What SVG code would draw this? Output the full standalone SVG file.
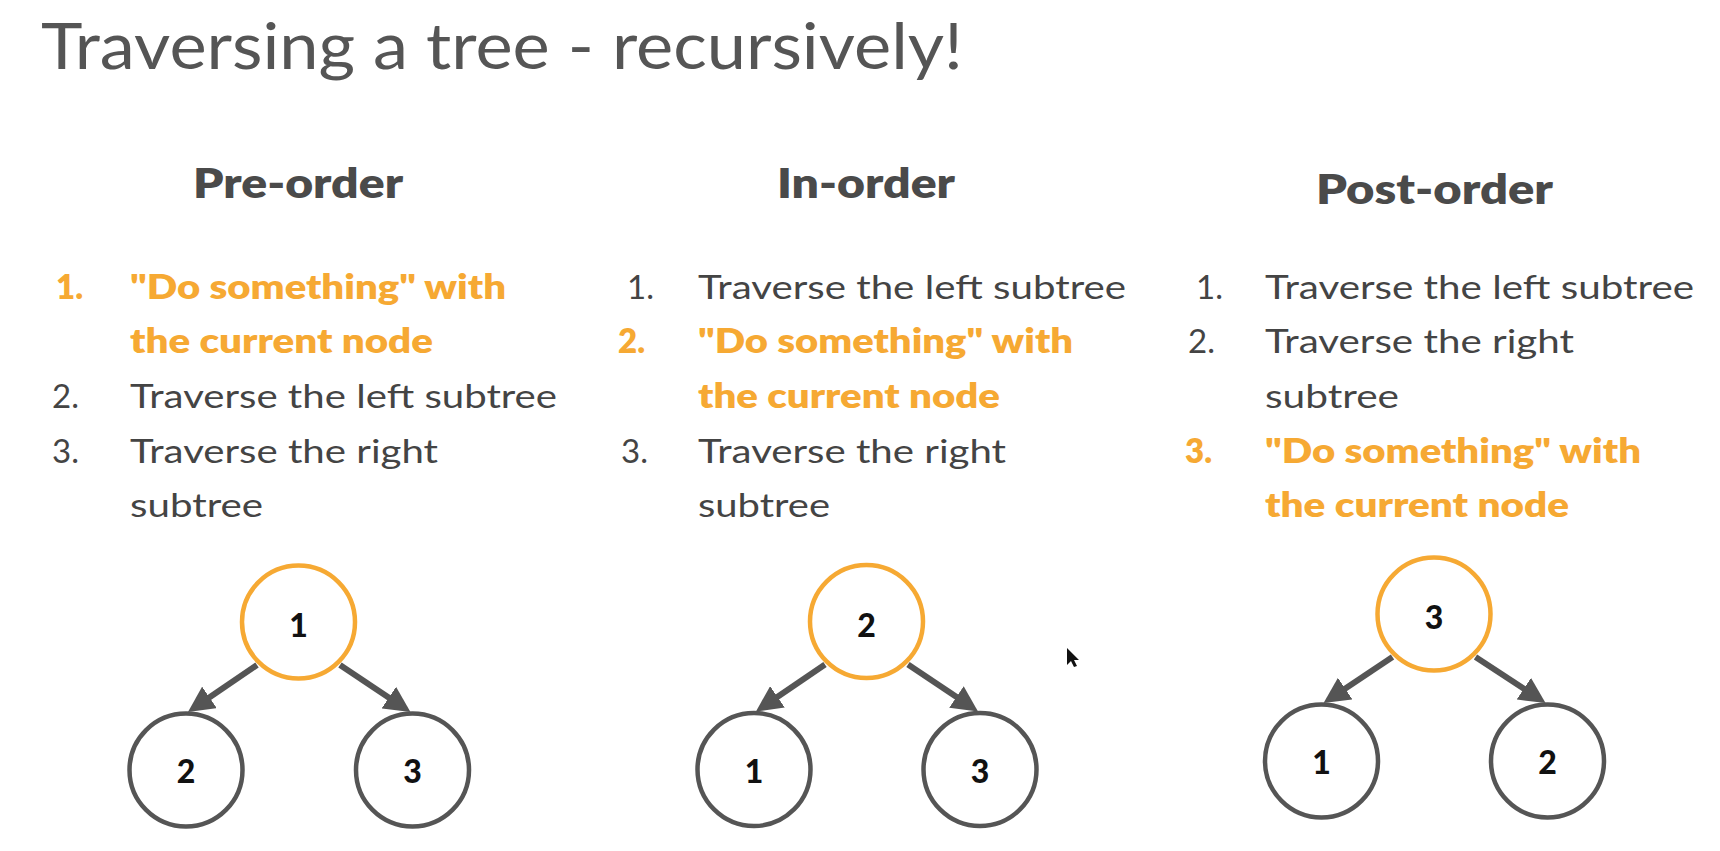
<svg xmlns="http://www.w3.org/2000/svg" width="1720" height="851" viewBox="0 0 1720 851">
<style>
.title{font-family:Lato,"Open Sans",sans-serif;font-size:64px;fill:#555555;}
.head{font-family:Lato,"Open Sans",sans-serif;font-weight:800;font-size:42px;fill:#4a4a4a;}
.txt{font-family:Lato,"Open Sans",sans-serif;font-size:33px;fill:#444444;}
.hl{font-family:Lato,"Open Sans",sans-serif;font-weight:800;font-size:33px;fill:#F6A933;}
.num{font-family:Lato,"Open Sans",sans-serif;font-weight:900;font-size:32px;fill:#111111;text-anchor:middle;}
.node{fill:#ffffff;stroke:#555555;stroke-width:4.5;}
.cur{fill:#ffffff;stroke:#F6A933;stroke-width:4.5;}
.edge{stroke:#555555;stroke-width:6;fill:none;marker-end:url(#ah);}
</style>
<defs>
<marker id="ah" markerUnits="userSpaceOnUse" markerWidth="26" markerHeight="26" refX="2" refY="13" orient="auto">
<path d="M0,0 L26,13 L0,26 Z" fill="#555555"/>
</marker>
</defs>
<rect width="1720" height="851" fill="#ffffff"/>
<text class="title" x="41" y="69" textLength="922" lengthAdjust="spacingAndGlyphs">Traversing a tree - recursively!</text>

<g id="preorder-text">
<text class="head" x="193" y="198" textLength="210" lengthAdjust="spacingAndGlyphs">Pre-order</text>
<text class="hl" x="56" y="299">1.</text>
<text class="hl" x="130" y="299" textLength="376" lengthAdjust="spacingAndGlyphs">"Do something" with</text>
<text class="hl" x="130" y="353" textLength="303" lengthAdjust="spacingAndGlyphs">the current node</text>
<text class="txt" x="52" y="408">2.</text>
<text class="txt" x="130" y="408" textLength="427" lengthAdjust="spacingAndGlyphs">Traverse the left subtree</text>
<text class="txt" x="52" y="463">3.</text>
<text class="txt" x="130" y="463" textLength="308" lengthAdjust="spacingAndGlyphs">Traverse the right</text>
<text class="txt" x="130" y="517" textLength="133" lengthAdjust="spacingAndGlyphs">subtree</text>
</g>

<g id="inorder-text">
<text class="head" x="777" y="198" textLength="178" lengthAdjust="spacingAndGlyphs">In-order</text>
<text class="txt" x="627" y="299">1.</text>
<text class="txt" x="698" y="299" textLength="428" lengthAdjust="spacingAndGlyphs">Traverse the left subtree</text>
<text class="hl" x="618" y="353">2.</text>
<text class="hl" x="698" y="353" textLength="375" lengthAdjust="spacingAndGlyphs">"Do something" with</text>
<text class="hl" x="698" y="408" textLength="302" lengthAdjust="spacingAndGlyphs">the current node</text>
<text class="txt" x="621" y="463">3.</text>
<text class="txt" x="698" y="463" textLength="308" lengthAdjust="spacingAndGlyphs">Traverse the right</text>
<text class="txt" x="698" y="517" textLength="132" lengthAdjust="spacingAndGlyphs">subtree</text>
</g>

<g id="postorder-text">
<text class="head" x="1316" y="204" textLength="237" lengthAdjust="spacingAndGlyphs">Post-order</text>
<text class="txt" x="1196" y="299">1.</text>
<text class="txt" x="1265" y="299" textLength="429" lengthAdjust="spacingAndGlyphs">Traverse the left subtree</text>
<text class="txt" x="1188" y="353">2.</text>
<text class="txt" x="1265" y="353" textLength="309" lengthAdjust="spacingAndGlyphs">Traverse the right</text>
<text class="txt" x="1265" y="408" textLength="134" lengthAdjust="spacingAndGlyphs">subtree</text>
<text class="hl" x="1185" y="463">3.</text>
<text class="hl" x="1265" y="463" textLength="376" lengthAdjust="spacingAndGlyphs">"Do something" with</text>
<text class="hl" x="1265" y="517" textLength="304" lengthAdjust="spacingAndGlyphs">the current node</text>
</g>

<g id="connectors">
<line class="edge" x1="257" y1="665" x2="207.8" y2="698.5"/>
<line class="edge" x1="340" y1="665" x2="390.5" y2="698.7"/>
<line class="edge" x1="825" y1="664.5" x2="775.8" y2="698"/>
<line class="edge" x1="908" y1="664.5" x2="958.1" y2="698.1"/>
<line class="edge" x1="1392.5" y1="657" x2="1343.5" y2="689.7"/>
<line class="edge" x1="1475.5" y1="657" x2="1525.5" y2="689.8"/>
</g>

<g id="pre-n1"><circle class="cur" cx="298.5" cy="622" r="56.5"/><text class="num" x="298.5" y="637">1</text></g>
<g id="pre-n2"><circle class="node" cx="186" cy="770" r="56.5"/><text class="num" x="186" y="783">2</text></g>
<g id="pre-n3"><circle class="node" cx="412.5" cy="770" r="56.5"/><text class="num" x="412.5" y="783">3</text></g>

<g id="in-n2"><circle class="cur" cx="866.5" cy="621.5" r="56.5"/><text class="num" x="866.5" y="636.5">2</text></g>
<g id="in-n1"><circle class="node" cx="754" cy="769.5" r="56.5"/><text class="num" x="754" y="782.5">1</text></g>
<g id="in-n3"><circle class="node" cx="980" cy="769.5" r="56.5"/><text class="num" x="980" y="782.5">3</text></g>

<g id="post-n3"><circle class="cur" cx="1434" cy="614" r="56.5"/><text class="num" x="1434" y="629">3</text></g>
<g id="post-n1"><circle class="node" cx="1321.5" cy="761" r="56.5"/><text class="num" x="1321.5" y="774">1</text></g>
<g id="post-n2"><circle class="node" cx="1547.5" cy="761" r="56.5"/><text class="num" x="1547.5" y="774">2</text></g>

<path d="M1067,648 L1067,665 L1071,661 L1074,667 L1077,666 L1074,660 L1079,660 Z" fill="#111111"/>
</svg>
